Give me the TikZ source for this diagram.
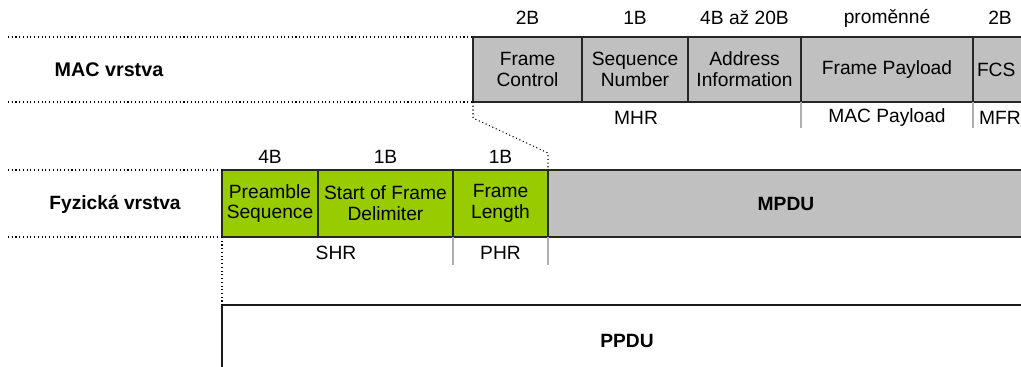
\documentclass[tikz,border=0pt]{standalone}
\usepackage{fontspec}
\setmainfont{Liberation Sans}
\usetikzlibrary{positioning}
\definecolor{fieldgray}{RGB}{192,192,192}
\definecolor{fieldgreen}{RGB}{153,204,0}
\definecolor{sepgray}{RGB}{175,175,175}
\newcommand{\fieldfont}{\fontsize{14.4}{15.6}\selectfont}

\begin{document}
\begin{tikzpicture}[x=0.75pt,y=-0.75pt,
    field/.style={draw=black!85,line width=1.1pt,inner sep=0pt,outer sep=0pt,
        align=center,font=\fieldfont},
    macfield/.style={field,fill=fieldgray,minimum height=48.75pt},
    phyfield/.style={field,fill=fieldgreen,minimum height=50.25pt},
    sizelabel/.style={font=\fieldfont,inner sep=0pt},
    partlabel/.style={font=\fieldfont,inner sep=0pt},
    layerlabel/.style={font=\fieldfont\bfseries,inner sep=0pt},
    guide/.style={black,line width=0.8pt,dotted},
    sepline/.style={sepgray,line width=1.1pt}]
    \useasboundingbox (0,0) rectangle (1021,367);
    \clip (0,0) rectangle (1021,367);

    % MAC vrstva
    \node[layerlabel] (maclabel) at (109,70) {\fontsize{14.8}{16}\selectfont MAC vrstva};
    \node[macfield,minimum width=81.75pt] (fc) at (527.5,69.5) {Frame\\Control};
    \node[macfield,minimum width=79.5pt] (sn) at (635,69.5) {Sequence\\Number};
    \node[macfield,minimum width=84.75pt] (ai) at (744.5,69.5) {Address\\Information};
    \node[macfield,minimum width=129pt] (fp) at (887,69.5) {Frame Payload};
    \node[macfield,minimum width=38.25pt,text width=38.25pt,align=left] (fcs) at (998.5,69.5) {\hspace{3pt}FCS};

    \node[sizelabel] (fcsize) at (527.5,18) {2B};
    \node[sizelabel] (snsize) at (635,18) {1B};
    \node[sizelabel] (aisize) at (744.5,18) {4B až 20B};
    \node[sizelabel] (fpsize) at (887,18) {proměnné};
    \node[sizelabel] (fcssize) at (1000,18) {2B};

    \node[partlabel] (mhr) at (636,118) {MHR};
    \node[partlabel] (macpayload) at (887,118) {MAC Payload};
    \node[partlabel] (mfr) at (1000,118) {MFR};
    \draw[sepline] (fp.south west) -- ++(0,26);
    \draw[sepline] (fcs.south west) -- ++(0,26);

    \draw[guide] (8,37) -- (fc.north west);
    \draw[guide] (8,102) -- (fc.south west);

    % Fyzicka vrstva
    \node[layerlabel] (phylabel) at (115,204) {Fyzická vrstva};
    \node[phyfield,minimum width=72pt] (ps) at (270,203.5) {Preamble\\Sequence};
    \node[phyfield,minimum width=101.25pt] (sfd) at (385.5,203.5) {Start of Frame\\Delimiter};
    \node[phyfield,minimum width=71.25pt] (fl) at (500.5,203.5) {Frame\\Length};
    \node[macfield,minimum width=357pt,minimum height=50.25pt,font=\fieldfont\bfseries] (mpdu) at (786,203.5) {MPDU};

    \node[sizelabel] (pssize) at (270,157) {4B};
    \node[sizelabel] (sfdsize) at (385.5,157) {1B};
    \node[sizelabel] (flsize) at (500.5,157) {1B};

    \node[partlabel] (shr) at (336,253) {SHR};
    \node[partlabel] (phr) at (500.5,253) {PHR};
    \draw[sepline] (fl.south west) -- ++(0,28);
    \draw[sepline] (fl.south east) -- ++(0,28);

    \draw[guide] (8,170) -- (ps.north west);
    \draw[guide] (8,237) -- (ps.south west);

    \draw[guide] (fc.south west) -- ++(0,16) -- (548,153) -- (mpdu.north west);

    % PPDU
    \node[field,draw=black!90,line width=1.7pt,minimum width=607.5pt,minimum height=54pt,
        font=\fieldfont\bfseries] (ppdu) at (627,341) {PPDU};
    \draw[guide] (ps.south west) -- (ppdu.north west);
\end{tikzpicture}
\end{document}
